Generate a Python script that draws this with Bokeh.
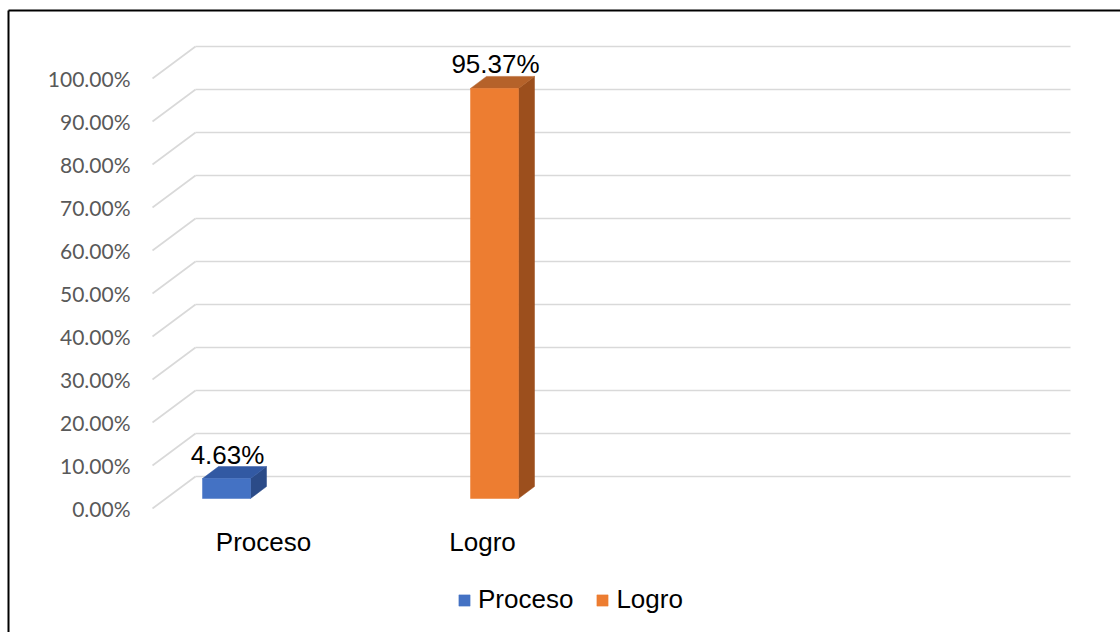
from bokeh.plotting import figure
from bokeh.models import (Range1d, LinearAxis, FixedTicker, NumeralTickFormatter,
                          Legend, LegendItem)
from bokeh.core.properties import value
from bokeh.embed import file_html
from bokeh.resources import INLINE

# ---------------- data ----------------
categories = ["Proceso", "Logro"]
percent_values = [4.63, 95.37]
tick_values = [0.0, 0.1, 0.2, 0.3, 0.4, 0.5, 0.6, 0.7, 0.8, 0.9, 1.0]
front_colors = ["#4472C4", "#ED7D31"]
top_colors = ["#3259A3", "#B5622A"]
side_colors = ["#2B4B88", "#9C4F1D"]

# ---------------- layout constants (pixels) ----------------
W, H = 1120, 632
PX = 430.0          # pixels for 100 %
Y0 = 508.0          # pixel row of front 0 %


def fy(py):
    return (Y0 - py) / PX


BACK_DX, BACK_DY = 43, 32 / PX      # wall depth offset
FRONT_X, BACK_X, WALL_RIGHT = 152, 195, 1070
BAR_LEFT0, BAR_STEP, BAR_W = 202, 268, 48
BAR_BASE = 10 / PX
DEP_X, DEP_Y = 16, 12 / PX
CAT_X0, CAT_STEP = 263, 219

FONT = value("Liberation Sans")

p = figure(width=W, height=H, output_backend="svg", toolbar_location=None,
           x_range=Range1d(0, W), y_range=Range1d(fy(H), fy(0)),
           x_axis_type=None, y_axis_type=None,
           min_border=0, min_border_left=0, min_border_right=0,
           min_border_top=0, min_border_bottom=0)
p.outline_line_color = None
p.background_fill_color = "white"
p.border_fill_color = "white"

# ---------------- outer frame (left and top edges visible) ----------------
p.segment(x0=[8, 8], y0=[fy(10), fy(10)], x1=[W + 10, 8], y1=[fy(10), fy(H + 10)],
          line_color="black", line_width=2)

# ---------------- gridlines (3D wall) ----------------
back_vals = [t + BACK_DY for t in tick_values]
p.segment(x0=FRONT_X, y0=tick_values, x1=BACK_X, y1=back_vals,
          line_color="#D9D9D9", line_width=1.6)
p.segment(x0=BACK_X, y0=back_vals, x1=WALL_RIGHT, y1=back_vals,
          line_color="#D9D9D9", line_width=1.6)

# ---------------- y axis ----------------
yaxis = LinearAxis(ticker=FixedTicker(ticks=tick_values),
                   formatter=NumeralTickFormatter(format="0.00%"),
                   fixed_location=FRONT_X,
                   axis_line_color=None, major_tick_line_color=None,
                   minor_tick_line_color=None, major_tick_in=0, major_tick_out=0,
                   major_label_standoff=22,
                   major_label_text_font="Lato",
                   major_label_text_font_size="21px",
                   major_label_text_color="#595959")
p.add_layout(yaxis, "left")

# ---------------- bars ----------------
legend_items = []
label_x, label_y = [], []
for i, (cat, v) in enumerate(zip(categories, percent_values)):
    f = v / 100.0
    L = BAR_LEFT0 + BAR_STEP * i
    R = L + BAR_W
    b = BAR_BASE
    t = BAR_BASE + f
    p.patch([R, R + DEP_X, R + DEP_X, R], [b, b + DEP_Y, t + DEP_Y, t],
            fill_color=side_colors[i], line_color=side_colors[i], line_width=0.5)
    p.patch([L, R, R + DEP_X, L + DEP_X], [t, t, t + DEP_Y, t + DEP_Y],
            fill_color=top_colors[i], line_color=top_colors[i], line_width=0.5)
    r = p.quad(left=L, right=R, bottom=b, top=t,
               fill_color=front_colors[i], line_color=front_colors[i], line_width=0.5)
    legend_items.append(LegendItem(label=cat, renderers=[r]))
    label_x.append((L + R) / 2 + 1)
    label_y.append(t + DEP_Y + 12 / PX)

p.text(x=label_x, y=label_y, text=[f"{v:.2f}%" for v in percent_values],
       text_align="center", text_baseline="middle",
       text_font=FONT, text_font_size="26px", text_color="black")

# ---------------- category labels ----------------
p.text(x=[CAT_X0 + CAT_STEP * i for i in range(len(categories))],
       y=[fy(541)] * len(categories), text=categories,
       text_align="center", text_baseline="middle",
       text_font=FONT, text_font_size="26px", text_color="black")

# ---------------- legend ----------------
legend = Legend(items=legend_items, orientation="horizontal",
                location=(457, 17), glyph_width=14, glyph_height=14,
                label_standoff=7, spacing=22, padding=0, margin=0,
                label_text_font="Liberation Sans", label_text_font_size="26px",
                label_text_color="black",
                border_line_color=None, background_fill_alpha=0)
p.add_layout(legend)

open("out.html", "w").write(file_html(p, INLINE))
